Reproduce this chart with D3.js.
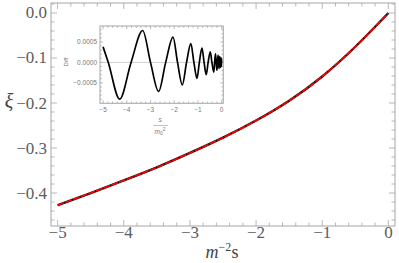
<!DOCTYPE html>
<html>
<head>
<meta charset="utf-8">
<script src="https://cdn.jsdelivr.net/npm/d3@7"></script>
<style>
  body { margin: 0; background: #fff; }
  svg { display: block; }
  .serif { font-family: "Liberation Serif", "Times New Roman", serif; }
  .sans { font-family: "Liberation Sans", Arial, sans-serif; }
</style>
</head>
<body>
<div id="chart"></div>
<script>
// main curve: xi vs m^-2 s
var sVals  = [-5, -4.5, -4, -3.5, -3, -2.5, -2, -1.5, -1, -0.5, 0];
var xiVals = [-0.427, -0.400, -0.372, -0.343, -0.311, -0.277, -0.239, -0.195, -0.141, -0.075, 0];

// inset: difference between the two curves (units of 1e-4)
var diffS = [-5.0, -4.78, -4.30, -3.82, -3.33, -3.00, -2.66, -2.36, -2.05, -1.86, -1.66, -1.48,
             -1.30, -1.17, -1.04, -0.94, -0.83, -0.74, -0.65, -0.57, -0.48, -0.41, -0.33, -0.295,
             -0.26, -0.23, -0.20, -0.175, -0.15, -0.13, -0.11, -0.095, -0.08, -0.065, -0.05,
             -0.04, -0.03, -0.022, -0.015, -0.008, -0.004, 0];
var diffV = [3.8, 0, -9.0, 0, 7.8, 0, -7.1, 0, 6.2, 0, -5.5, 0,
             4.6, 0, -3.9, 0, 3.5, 0, -3.0, 0, 2.6, 0, -2.4, 0,
             2.1, 0, -1.9, 0, 1.7, 0, -1.5, 0, 1.4, 0, -1.2,
             0, 1.1, 0, -1.0, 0, 0.8, 0];

var xTicks = [-5, -4, -3, -2, -1, 0];
var yTicks = [-0.4, -0.3, -0.2, -0.1, 0.0];
var insetYTicks = [-0.0005, 0, 0.0005];

var W = 399, H = 263;
var frameCol = '#a6a6a6', labelCol = '#5c5c5c';

var svg = d3.select('#chart').append('svg')
    .attr('width', W).attr('height', H);

// ---------- main plot ----------
var x = d3.scaleLinear().domain([-5.1, 0.1]).range([51, 395]);
var y = d3.scaleLinear().domain([-0.4733, 0.0222]).range([226, 3]);

function frameTicks(g, xs, ys, xMajor, yMajor, xMinor, yMinor, bigLen, smallLen) {
  var x0 = xs.range()[0], x1 = xs.range()[1], y0 = ys.range()[0], y1 = ys.range()[1];
  var tk = g.append('g').attr('stroke', frameCol).attr('stroke-width', 0.8);
  function vt(vals, len) {
    vals.forEach(function (v) {
      var px = xs(v);
      tk.append('line').attr('x1', px).attr('x2', px).attr('y1', y0).attr('y2', y0 - len);
      tk.append('line').attr('x1', px).attr('x2', px).attr('y1', y1).attr('y2', y1 + len);
    });
  }
  function ht(vals, len) {
    vals.forEach(function (v) {
      var py = ys(v);
      tk.append('line').attr('y1', py).attr('y2', py).attr('x1', x0).attr('x2', x0 + len);
      tk.append('line').attr('y1', py).attr('y2', py).attr('x1', x1).attr('x2', x1 - len);
    });
  }
  vt(xMajor, bigLen); vt(xMinor, smallLen);
  ht(yMajor, bigLen); ht(yMinor, smallLen);
  g.append('rect')
      .attr('x', x0).attr('y', y1).attr('width', x1 - x0).attr('height', y0 - y1)
      .attr('fill', 'none').attr('stroke', frameCol).attr('stroke-width', 1);
}

var xMinor = d3.range(-5.0, 0.01, 0.2).filter(function (v) { return Math.abs(v - Math.round(v)) > 1e-6; });
var yMinor = d3.range(-0.46, 0.021, 0.02).filter(function (v) { return Math.abs(v * 10 - Math.round(v * 10)) > 1e-6; });
frameTicks(svg.append('g'), x, y, xTicks, yTicks, xMinor, yMinor, 6, 3.5);

svg.append('g').selectAll('text').data(xTicks).enter().append('text')
    .attr('class', 'serif')
    .attr('x', function (d) { return x(d); })
    .attr('y', 238)
    .attr('text-anchor', 'middle')
    .attr('font-size', 17)
    .attr('fill', labelCol)
    .text(d3.format('d'));

svg.append('g').selectAll('text').data(yTicks).enter().append('text')
    .attr('class', 'serif')
    .attr('x', 47)
    .attr('y', function (d) { return y(d) + 5.5; })
    .attr('text-anchor', 'end')
    .attr('font-size', 17)
    .attr('fill', labelCol)
    .text(d3.format('.1f'));

var xl = svg.append('text').attr('class', 'serif')
    .attr('x', 222).attr('y', 258).attr('text-anchor', 'middle')
    .attr('font-size', 18).attr('fill', '#444');
xl.append('tspan').attr('font-style', 'italic').text('m');
xl.append('tspan').attr('dy', -7).attr('font-size', 12).text('\u22122');
xl.append('tspan').attr('dy', 7).text('s');

svg.append('text').attr('class', 'serif')
    .attr('x', 9).attr('y', 108).attr('text-anchor', 'middle')
    .attr('font-size', 20).attr('font-style', 'italic').attr('fill', '#444')
    .text('\u03be');

var mainData = sVals.map(function (s, i) { return [s, xiVals[i]]; });
var line = d3.line()
    .x(function (d) { return x(d[0]); })
    .y(function (d) { return y(d[1]); })
    .curve(d3.curveNatural);

svg.append('path').datum(mainData).attr('d', line)
    .attr('fill', 'none').attr('stroke', '#111').attr('stroke-width', 2.4);
svg.append('path').datum(mainData).attr('d', line)
    .attr('fill', 'none').attr('stroke', '#f00').attr('stroke-width', 1.7)
    .attr('stroke-dasharray', '7,1.2');

// ---------- inset ----------
var ix = d3.scaleLinear().domain([-5.13, 0.07]).range([100, 223.3]);
var iy = d3.scaleLinear().domain([-0.001, 0.00089]).range([103.3, 26]);
var inset = svg.append('g');

inset.append('rect').attr('x', 100).attr('y', 26).attr('width', 123.3).attr('height', 77.3)
    .attr('fill', '#fff');
inset.append('line')
    .attr('x1', ix.range()[0]).attr('x2', ix.range()[1])
    .attr('y1', iy(0)).attr('y2', iy(0))
    .attr('stroke', '#cfcfcf').attr('stroke-width', 1);

var ixMinor = d3.range(-5.0, 0.01, 0.2).filter(function (v) { return Math.abs(v - Math.round(v)) > 1e-6; });
var iyMinor = d3.range(-0.0009, 0.00081, 0.0001).filter(function (v) { return Math.abs(v * 2000 - Math.round(v * 2000)) > 1e-6; });
frameTicks(inset, ix, iy, xTicks, insetYTicks, ixMinor, iyMinor, 3, 1.8);

inset.selectAll('.ixl').data(xTicks).enter().append('text')
    .attr('class', 'sans')
    .attr('x', function (d) { return ix(d); })
    .attr('y', 111.5)
    .attr('text-anchor', 'middle')
    .attr('font-size', 6.5)
    .attr('fill', '#777')
    .text(d3.format('d'));

inset.selectAll('.iyl').data(insetYTicks).enter().append('text')
    .attr('class', 'sans')
    .attr('x', 97)
    .attr('y', function (d) { return iy(d) + 2.3; })
    .attr('text-anchor', 'end')
    .attr('font-size', 6.5)
    .attr('fill', '#777')
    .text(d3.format('.4f'));

inset.append('text').attr('class', 'sans')
    .attr('transform', 'translate(68,62) rotate(-90)')
    .attr('text-anchor', 'middle')
    .attr('font-size', 6)
    .attr('fill', '#777')
    .text('Diff');

inset.append('text').attr('class', 'sans')
    .attr('x', 160).attr('y', 122).attr('text-anchor', 'middle')
    .attr('font-size', 6.5).attr('font-style', 'italic').attr('fill', '#777')
    .text('s');
inset.append('line').attr('x1', 153).attr('x2', 168).attr('y1', 125.5).attr('y2', 125.5)
    .attr('stroke', '#999').attr('stroke-width', 0.6);
var den = inset.append('text').attr('class', 'sans')
    .attr('x', 160).attr('y', 134).attr('text-anchor', 'middle')
    .attr('font-size', 6.5).attr('font-style', 'italic').attr('fill', '#777');
den.append('tspan').text('m');
den.append('tspan').attr('font-style', 'normal').attr('dy', 1.2).attr('font-size', 5).text('0');
den.append('tspan').attr('font-style', 'normal').attr('dy', -4).attr('font-size', 5).text('2');

var diffData = diffS.map(function (s, i) { return [s, diffV[i] * 1e-4]; });
inset.append('path').datum(diffData)
    .attr('d', d3.line()
        .x(function (d) { return ix(d[0]); })
        .y(function (d) { return iy(d[1]); })
        .curve(d3.curveMonotoneX))
    .attr('fill', 'none').attr('stroke', '#000').attr('stroke-width', 1.7);
</script>
</body>
</html>
